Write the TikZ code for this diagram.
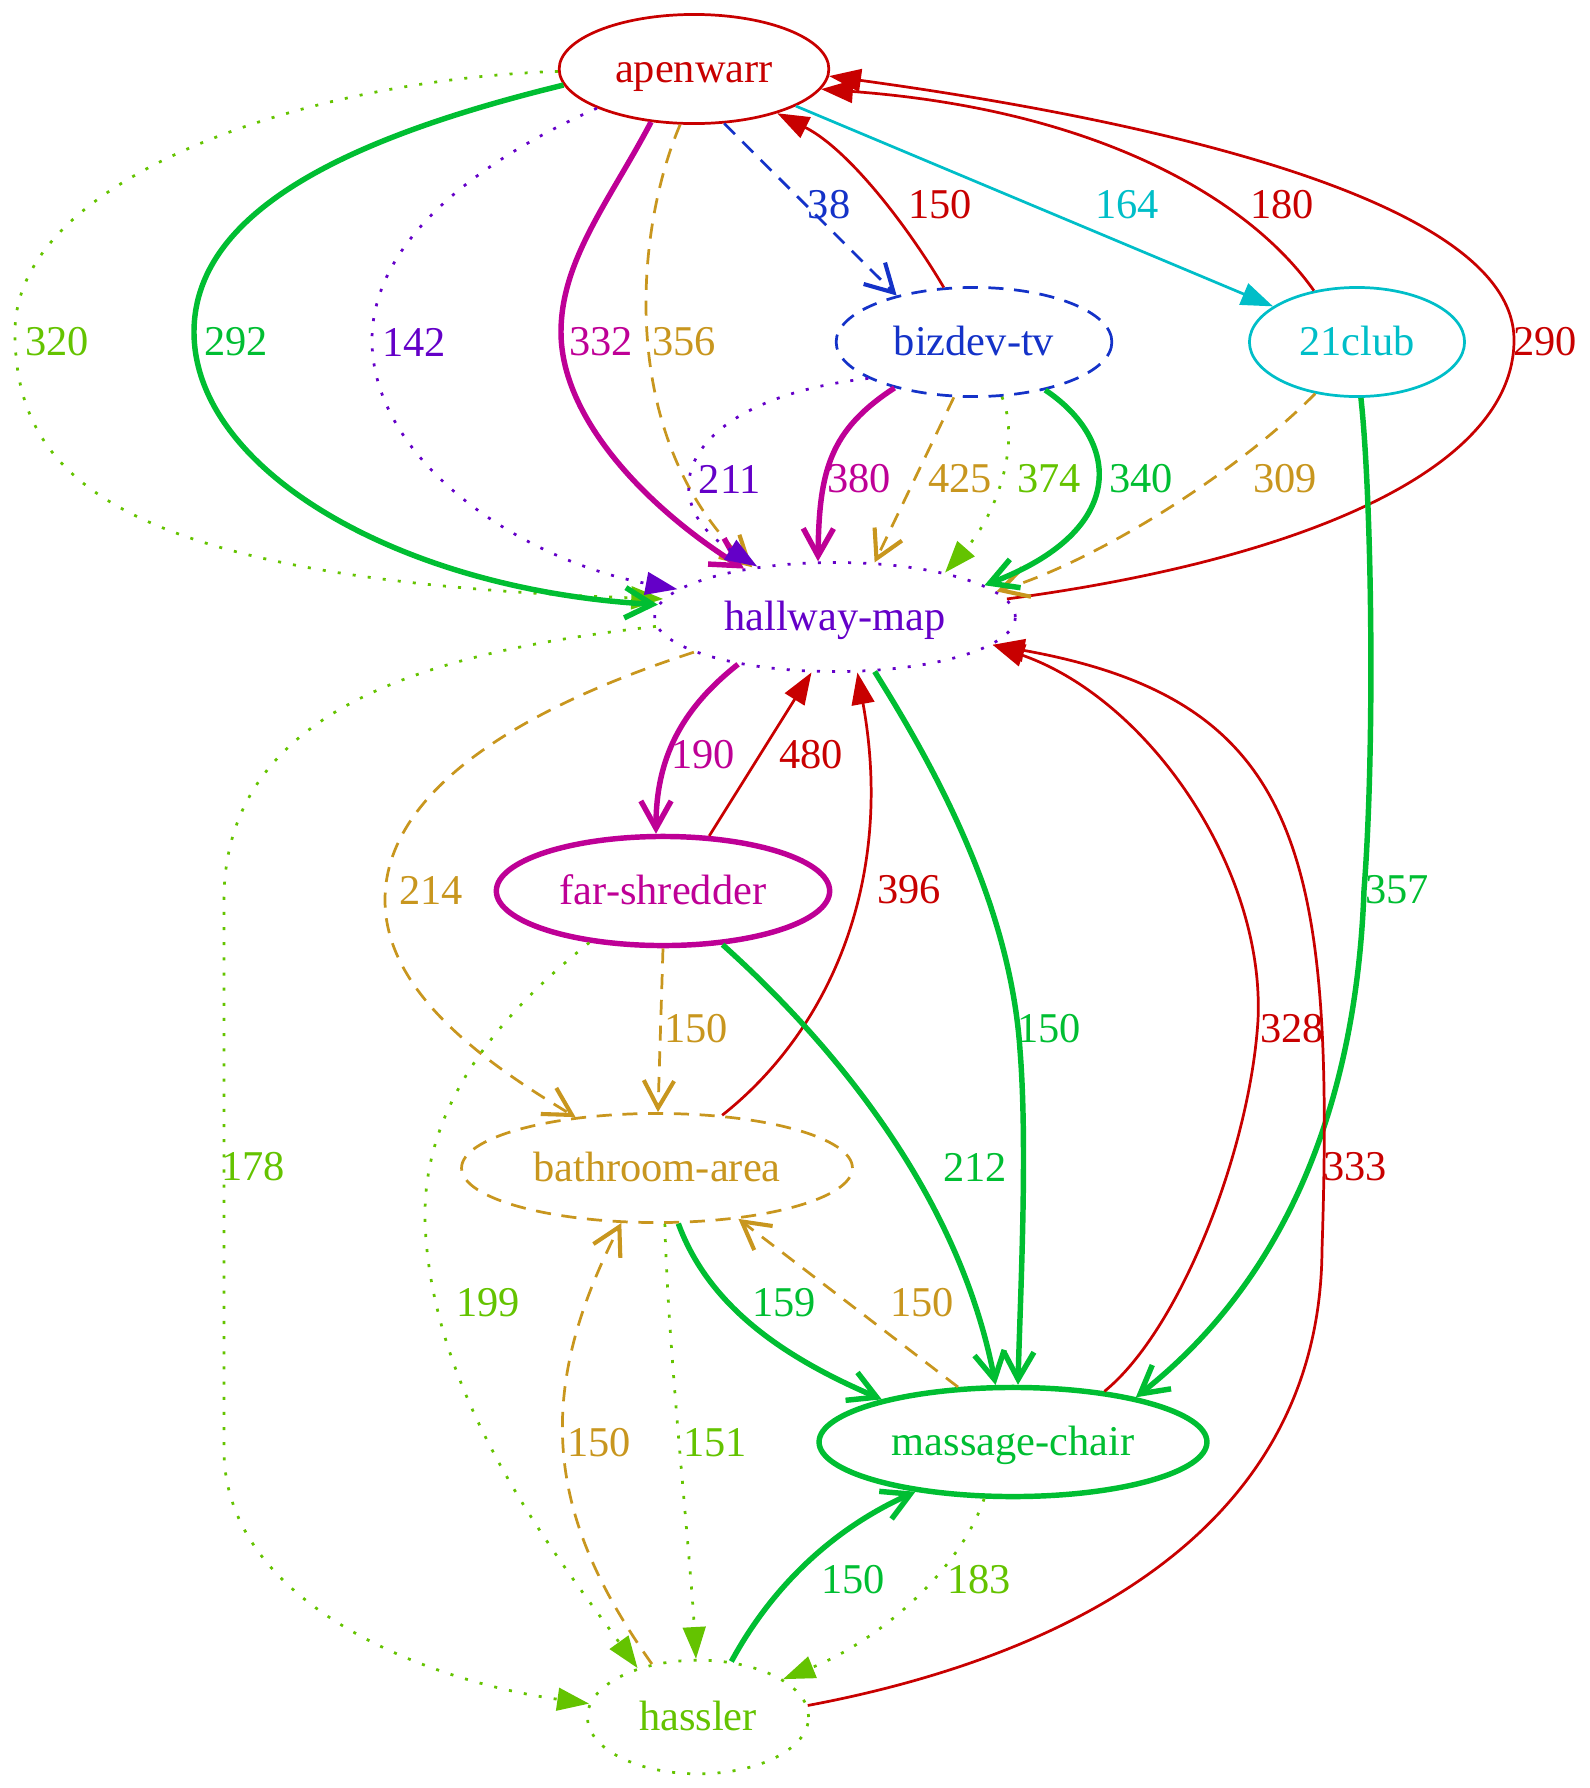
\documentclass[tikz,border=0pt]{standalone}
\usepackage{fontspec}
\setmainfont{Liberation Serif}
\usetikzlibrary{arrows.meta}
\usetikzlibrary{shapes.geometric}

\definecolor{apred}{RGB}{200,0,0}
\definecolor{bzblue}{RGB}{20,50,200}
\definecolor{clcyan}{RGB}{0,190,200}
\definecolor{hwpurple}{RGB}{100,0,200}
\definecolor{fsmagenta}{RGB}{190,0,150}
\definecolor{bagold}{RGB}{200,150,30}
\definecolor{mcgreen}{RGB}{0,190,50}
\definecolor{hsgreen}{RGB}{100,195,0}

\begin{document}
\begin{tikzpicture}
	[x=0.33pt, y=-0.33pt,
	every node/.append style={font=\fontsize{14}{16}\selectfont},
	station/.style={ellipse, inner sep=0pt, minimum height=36pt, text height=10pt, text depth=1pt},
	thinline/.style={line width=0.9pt},
	fatline/.style={line width=1.8pt},
	dashline/.style={dash pattern=on 5pt off 3.5pt},
	dotline/.style={dash pattern=on 1pt off 4pt},
	tri/.style={-{Triangle[length=10.5pt,width=7.5pt]}},
	barb/.style={-{Straight Barb[length=9pt,width=10pt,line width=0.9pt 0.5]}},
	rd/.style={draw=apred, thinline, tri},
	bl/.style={draw=bzblue, thinline, dashline, barb},
	cy/.style={draw=clcyan, thinline, tri},
	pu/.style={draw=hwpurple, thinline, dotline, tri},
	mg/.style={draw=fsmagenta, fatline, barb},
	gd/.style={draw=bagold, thinline, dashline, barb},
	gr/.style={draw=mcgreen, fatline, barb},
	yg/.style={draw=hsgreen, thinline, dotline, tri}]

	\useasboundingbox (0,0) rectangle (1590,1788);

	% nodes
	\node [station, draw=apred, thinline, text=apred, minimum width=89pt] (ap) at (694,69) {apenwarr};
	\node [station, draw=bzblue, thinline, dashline, text=bzblue, minimum width=91pt] (bz) at (974,342) {bizdev-tv};
	\node [station, draw=clcyan, thinline, text=clcyan, minimum width=71pt] (cl) at (1357,342) {21club};
	\node [station, draw=hwpurple, thinline, dotline, text=hwpurple, minimum width=119pt] (hw) at (835,617) {hallway-map};
	\node [station, draw=fsmagenta, fatline, text=fsmagenta, minimum width=110pt] (fs) at (663,891) {far-shredder};
	\node [station, draw=bagold, thinline, dashline, text=bagold, minimum width=129pt] (ba) at (657,1168) {bathroom-area};
	\node [station, draw=mcgreen, fatline, text=mcgreen, minimum width=128pt] (mc) at (1013,1442) {massage-chair};
	\node [station, draw=hsgreen, thinline, dotline, text=hsgreen, minimum width=73pt, minimum height=37.5pt] (hs) at (698,1717) {hassler};

	% apenwarr
	\draw [yg] (ap.181) .. controls (300,80) and (15,180) .. (15,332) .. controls (15,480) and (120,580) .. (hw.174);
	\node [text=hsgreen] (l320) at (57,342) {320};
	\draw [gr] (ap.187) .. controls (380,130) and (194,200) .. (194,332) .. controls (194,470) and (400,590) .. (hw.176);
	\node [text=mcgreen] (l292) at (236,342) {292};
	\draw [pu] (ap.202) .. controls (480,160) and (372,240) .. (372,340) .. controls (372,460) and (520,560) .. (hw.170);
	\node [text=hwpurple] (l142) at (414,342) {142};
	\draw [gd] (ap.256) .. controls (635,230) and (615,440) .. (hw.149);
	\node [text=bagold] (l356) at (684,342) {356};
	\draw [mg] (ap.231) .. controls (610,200) and (561,260) .. (561,332) .. controls (561,420) and (650,510) .. (hw.152);
	\node [text=fsmagenta] (l332) at (601,342) {332};
	\draw [bl] (ap.299) -- (bz.149);
	\node [text=bzblue] (l38) at (829,205) {38};
	\draw [rd] (bz.119) .. controls (910,230) and (850,150) .. (ap.332);
	\node [text=apred] (l150a) at (940,205) {150};
	\draw [cy] (ap.340) -- (cl.157);
	\node [text=clcyan] (l164) at (1127,205) {164};
	\draw [rd] (cl.130) .. controls (1250,200) and (1100,110) .. (ap.-9);
	\node [text=apred] (l180) at (1282,205) {180};
	\draw [rd] (hw.6) .. controls (1300,560) and (1514,470) .. (1514,340) .. controls (1514,200) and (1150,120) .. (ap.-3);
	\node [text=apred] (l290) at (1545,342) {290};

	% bizdev-tv and 21club
	\draw [pu] (bz.199) .. controls (680,400) and (650,500) .. (hw.147);
	\node [text=hwpurple] (l211) at (730,479) {211};
	\draw [mg] (bz.210) .. controls (830,430) and (819,470) .. (hw.107);
	\node [text=fsmagenta] (l380) at (859,479) {380};
	\draw [gd] (bz.250) -- (hw.54);
	\node [text=bagold] (l425) at (960,479) {425};
	\draw [yg] (bz.297) .. controls (1020,440) and (1000,510) .. (hw.22);
	\node [text=hsgreen] (l374) at (1049,479) {374};
	\draw [gd] (cl.231) .. controls (1240,470) and (1100,560) .. (hw.9);
	\node [text=bagold] (l309) at (1285,479) {309};
	\draw [gr] (bz.326) .. controls (1120,440) and (1130,530) .. (hw.12);
	\node [text=mcgreen] (l340) at (1141,479) {340};
	\draw [gr] (cl.274) .. controls (1372,500) and (1375,750) .. (1364,890) .. controls (1358,1060) and (1310,1260) .. (mc.20);
	\node [text=mcgreen] (l357) at (1397,890) {357};

	% hallway-map
	\draw [mg] (hw.206) .. controls (680,710) and (656,760) .. (fs.97);
	\node [text=fsmagenta] (l190) at (703,755) {190};
	\draw [rd] (fs.50) -- (hw.247);
	\node [text=apred] (l480) at (811,755) {480};
	\draw [rd] (ba.39) .. controls (830,1030) and (895,880) .. (hw.292);
	\node [text=apred] (l396) at (909,890) {396};
	\draw [gr] (hw.306) .. controls (930,760) and (1010,900) .. (1020,1050) .. controls (1028,1150) and (1020,1300) .. (mc.85);
	\node [text=mcgreen] (l150b) at (1049,1029) {150};
	\draw [rd] (mc.29) .. controls (1180,1330) and (1250,1150) .. (1258,1020) .. controls (1265,870) and (1150,700) .. (hw.350);
	\node [text=apred] (l328) at (1292,1029) {328};
	\draw [rd] (hs.6) .. controls (1050,1660) and (1320,1540) .. (1322,1250) .. controls (1335,850) and (1300,700) .. (hw.350);
	\node [text=apred] (l333) at (1355,1167) {333};
	\draw [gd] (hw.194) .. controls (500,715) and (385,800) .. (385,900) .. controls (385,990) and (480,1060) .. (ba.148);
	\node [text=bagold] (l214) at (431,890) {214};
	\draw [yg] (hw.183) .. controls (450,650) and (224,700) .. (224,900) -- (224,1450) .. controls (224,1600) and (420,1680) .. (hs.173);
	\node [text=hsgreen] (l178) at (253,1167) {178};

	% far-shredder
	\draw [gd] (fs.270) -- (ba.89);
	\node [text=bagold] (l150c) at (696,1029) {150};
	\draw [gr] (fs.318) .. controls (840,1050) and (960,1200) .. (mc.107);
	\node [text=mcgreen] (l212) at (975,1167) {212};
	\draw [yg] (fs.215) .. controls (480,1030) and (423,1120) .. (425,1220) .. controls (430,1400) and (560,1560) .. (hs.141);
	\node [text=hsgreen] (l199) at (488,1303) {199};

	% bathroom-area, massage-chair, hassler
	\draw [gr] (ba.291) .. controls (710,1310) and (790,1360) .. (mc.162);
	\node [text=mcgreen] (l159) at (784,1303) {159};
	\draw [gd] (mc.135) -- (ba.328);
	\node [text=bagold] (l150d) at (922,1303) {150};
	\draw [yg] (ba.278) .. controls (668,1350) and (690,1550) .. (hs.92);
	\node [text=hsgreen] (l151) at (715,1443) {151};
	\draw [gd] (hs.131) .. controls (550,1520) and (530,1400) .. (ba.237);
	\node [text=bagold] (l150e) at (599,1443) {150};
	\draw [gr] (hs.59) .. controls (770,1590) and (830,1530) .. (mc.207);
	\node [text=mcgreen] (l150f) at (853,1580) {150};
	\draw [yg] (mc.243) .. controls (960,1570) and (880,1640) .. (hs.24);
	\node [text=hsgreen] (l183) at (979,1580) {183};
\end{tikzpicture}
\end{document}
